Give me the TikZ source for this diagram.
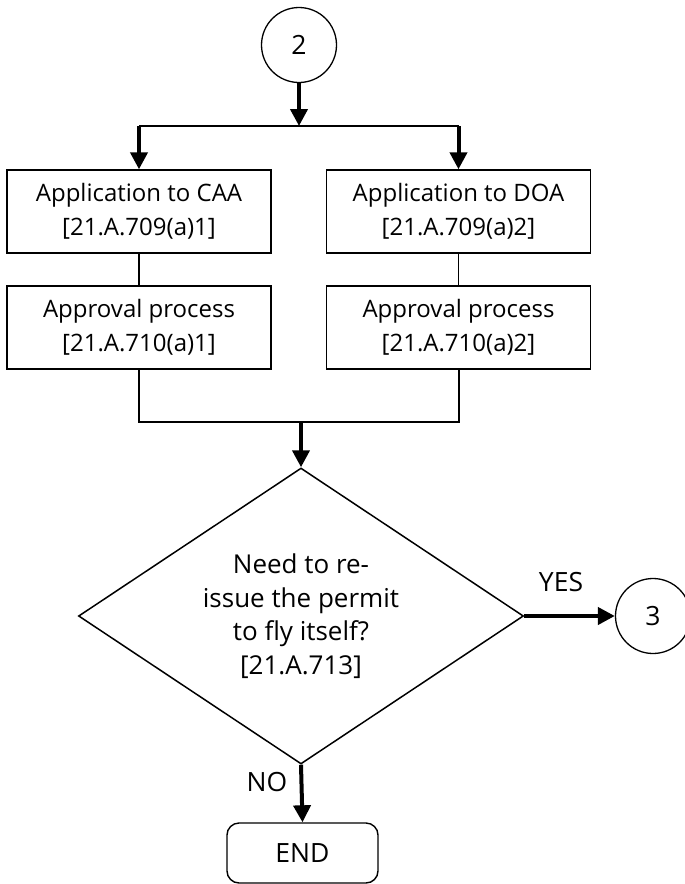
\documentclass[tikz,border=0pt]{standalone}
\usepackage{fontspec}
\setmainfont{Open Sans}
\usetikzlibrary{shapes.geometric, arrows.meta, calc}
\tikzstyle{arrow} = [line width=4pt,-{Triangle[length=17pt,width=17pt]}]
\tikzstyle{line} = [line width=1.3pt]
\tikzstyle{bar} = [line width=2pt]
\tikzstyle{process} = [rectangle, draw, line width=1.4pt, minimum width=264pt, minimum height=83pt, inner sep=0pt, align=center, font=\fontsize{24}{34}\selectfont]
\tikzstyle{connector} = [circle, draw, line width=1.3pt, minimum size=75pt, inner sep=0pt]
\tikzstyle{decision} = [diamond, draw, aspect=1.5, line width=1.5pt, minimum width=445pt, minimum height=296pt, inner sep=0pt, align=center, font=\fontsize{26}{33.5}\selectfont]
\tikzstyle{terminal} = [rectangle, rounded corners=12pt, draw, line width=1.4pt, minimum width=151pt, minimum height=60pt, inner sep=0pt]

\begin{document}
\begin{tikzpicture}[x=1pt, y=-1pt, every node/.style={font=\fontsize{26.5}{34}\selectfont}]

        \useasboundingbox (0,0) rectangle (685,884);

        % Entry connector
        \node at (299,45) [connector] (c2) {2};
        \coordinate (bartop) at (299,126);
        \draw [arrow] (c2.south) -- (bartop);

        % Two application paths
        \node at (139,211.5) [process] (appCAA) {Application to CAA\\{}[21.A.709(a)1]};
        \node at (458.5,211.5) [process] (appDOA) {Application to DOA\\{}[21.A.709(a)2]};
        \node at (139,327.5) [process] (apprCAA) {Approval process\\{}[21.A.710(a)1]};
        \node at (458.5,327.5) [process] (apprDOA) {Approval process\\{}[21.A.710(a)2]};

        % Split
        \draw [bar] (appCAA |- bartop) -- (appDOA |- bartop);
        \draw [arrow] (appCAA |- bartop) -- (appCAA.north);
        \draw [arrow] (appDOA |- bartop) -- (appDOA.north);

        % Application to approval
        \draw [line] (appCAA.south) -- (apprCAA.north);
        \draw [line] (appDOA.south) -- (apprDOA.north);

        % Join
        \coordinate (barbot) at (301,422);
        \draw [bar] (apprCAA.south) -- (apprCAA |- barbot) -- (apprDOA |- barbot) -- (apprDOA.south);

        % Decision
        \node at (301,616) [decision] (reissue) {Need to re-\\issue the permit\\to fly itself?\\{}[21.A.713]};
        \draw [arrow] (barbot) -- (reissue.north);

        % YES branch
        \node at (653,616) [connector] (c3) {3};
        \draw [arrow] (reissue.east) -- (c3.west);
        \node at (561,582) (yes) {YES};

        % NO branch
        \node at (302.5,853) [terminal] (end) {END};
        \draw [arrow] (reissue.south) -- (end.north);
        \node at (267,782) (no) {NO};

\end{tikzpicture}
\end{document}
